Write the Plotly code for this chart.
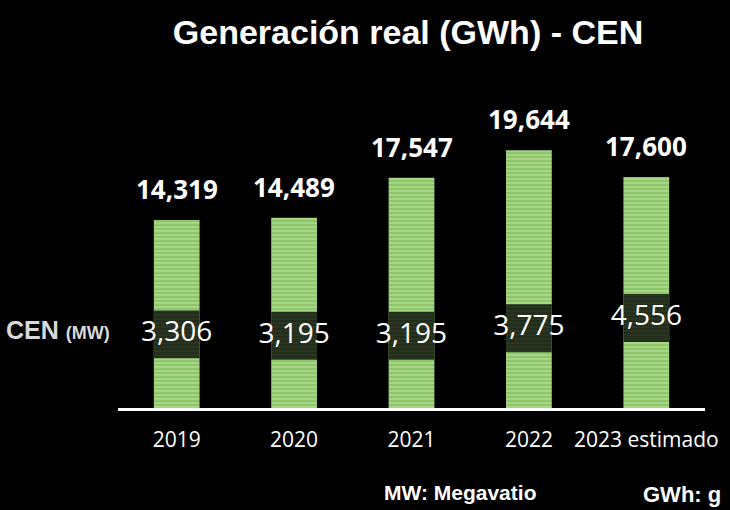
import plotly.graph_objects as go

years = ["2019", "2020", "2021", "2022", "2023 estimado"]
gwh = [14319, 14489, 17547, 19644, 17600]
mw = [3306, 3195, 3195, 3775, 4556]
gwh_labels = ["14,319", "14,489", "17,547", "19,644", "17,600"]
mw_labels = ["3,306", "3,195", "3,195", "3,775", "4,556"]

BAND_OFFSET = 480
BAND_H = 3650
NUM_FONT = "Open Sans, Lato, sans-serif"
TXT_FONT = "Liberation Sans, Arial, sans-serif"

fig = go.Figure()
fig.add_bar(
    x=years, y=gwh, width=0.39,
    marker=dict(color="#95cc74", line=dict(width=0),
                pattern=dict(shape="-", fgcolor="#d2f0b4", bgcolor="#8ec76b", size=4, solidity=0.35)),
    hoverinfo="skip",
)
fig.add_bar(
    x=years, y=[BAND_H] * len(years), base=[m + BAND_OFFSET for m in mw], width=0.39,
    marker=dict(color="#26331f", line=dict(width=0),
                pattern=dict(shape="-", fgcolor="#34442b", bgcolor="#222d1c", size=4, solidity=0.35)),
    hoverinfo="skip",
)
fig.add_scatter(
    x=years, y=[m + BAND_OFFSET + BAND_H / 2 for m in mw], mode="text",
    text=mw_labels, textfont=dict(family=NUM_FONT, size=28, color="white"),
    hoverinfo="skip",
)
for i, (v, t) in enumerate(zip(gwh, gwh_labels)):
    fig.add_annotation(x=i, y=v, text="<b>" + t + "</b>", showarrow=False,
                       yanchor="bottom", yshift=11,
                       font=dict(family=NUM_FONT, size=26, color="white"))

fig.add_annotation(xref="paper", yref="paper", x=-0.195, y=0.2476, xanchor="left", yanchor="middle",
                   text="<b>CEN</b> <b><span style='font-size:18px'>(MW)</span></b>", showarrow=False,
                   font=dict(family=TXT_FONT, size=25, color="#d9d9d9"))
fig.add_annotation(xref="paper", yref="paper", x=(460 - 118) / 587, y=(408 - 492) / 315,
                   xanchor="center", yanchor="middle",
                   text="<b>MW: Megavatio</b>", showarrow=False,
                   font=dict(family=TXT_FONT, size=21, color="white"))
fig.add_annotation(xref="paper", yref="paper", x=(641 - 118) / 587, y=(408 - 495) / 315,
                   xanchor="left", yanchor="middle",
                   text="<b>GWh: g</b>", showarrow=False,
                   font=dict(family=TXT_FONT, size=22, color="white"))

fig.update_layout(
    width=730, height=510,
    paper_bgcolor="black", plot_bgcolor="black",
    margin=dict(l=118, r=25, t=93, b=102),
    showlegend=False, barmode="overlay",
    title=dict(text="<b>Generación real (GWh) - CEN</b>", x=408 / 730, xanchor="center",
               y=1 - 32 / 510, yanchor="middle",
               font=dict(family=TXT_FONT, size=34, color="white")),
    xaxis=dict(type="category", showgrid=False, showline=True, linecolor="white", linewidth=3,
               ticks="", ticklabelstandoff=11,
               tickfont=dict(family=NUM_FONT, size=21, color="white"),
               range=[-0.5, 4.5]),
    yaxis=dict(visible=False, range=[0, 24000]),
)
fig.write_html("out.html", post_script="document.body.style.margin='0';",
               config={"displayModeBar": False})
